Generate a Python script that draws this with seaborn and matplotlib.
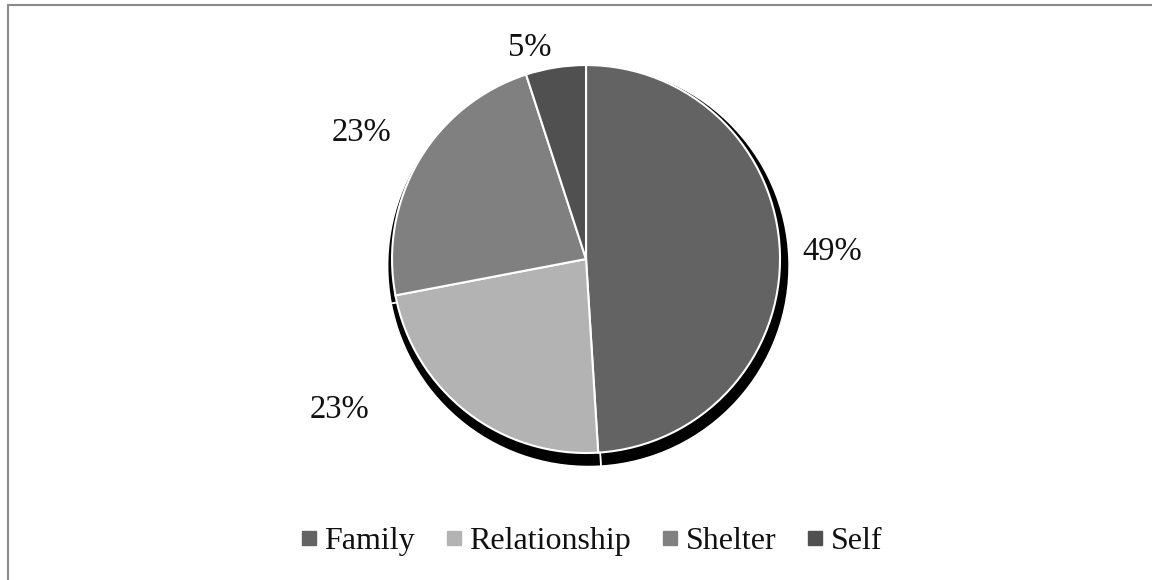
import matplotlib
matplotlib.use("Agg")
import matplotlib.pyplot as plt
import matplotlib.patches as mpatches
from matplotlib.lines import Line2D
import seaborn as sns

categories = ["Family", "Relationship", "Shelter", "Self"]
values = [49, 23, 23, 5]
colors = ["#636363", "#b3b3b3", "#808080", "#505050"]
label_texts = ["49%", "23%", "23%", "5%"]
# label positions in pie units (radius = 1)
label_pos = [(1.27, 0.035), (-1.27, -0.775), (-1.155, 0.65), (-0.29, 1.09)]

sns.set_theme(style="white")
plt.rcParams["font.family"] = ["Liberation Serif", "DejaVu Serif"]

fig = plt.figure(figsize=(11.52, 5.8), dpi=100)
fig.patch.set_facecolor("white")
ax = fig.add_axes([0.2561, 0.0517, 0.5052, 1.0034])
ax.axis("off")

# shadow
sh, _ = ax.pie(values, startangle=90, counterclock=False, radius=1.035,
               center=(0.012, -0.035), colors=["black"] * len(values),
               wedgeprops=dict(edgecolor="white", linewidth=1.2))
for w in sh:
    w.set_zorder(1)

wedges, _ = ax.pie(values, startangle=90, counterclock=False, radius=1.0,
                   center=(0, 0), colors=colors,
                   wedgeprops=dict(edgecolor="white", linewidth=1.5))
for w in wedges:
    w.set_zorder(2)
ax.set_xlim(-1.5, 1.5)
ax.set_ylim(-1.5, 1.5)
ax.set_aspect("equal")

for (x, y), t in zip(label_pos, label_texts):
    ax.text(x, y, t, ha="center", va="center", fontsize=23.5, color="#111111",
            zorder=3)

handles = [Line2D([0], [0], marker="s", linestyle="none", markersize=10,
                  markerfacecolor=c, markeredgecolor=c) for c in colors]
fig.legend(handles, categories, loc="center", bbox_to_anchor=(0.514, 0.067),
           ncol=4, frameon=False, fontsize=23, handlelength=0.45,
           handletextpad=0.25, columnspacing=1.0, labelcolor="#111111")

frame = mpatches.Rectangle((8 / 1152, -0.1), 1.2, 1 - 5 / 580 + 0.1,
                           transform=fig.transFigure, fill=False,
                           edgecolor="#8a8a8a", linewidth=1.5, clip_on=False)
fig.patches.append(frame)

fig.savefig("out.png", dpi=100)
